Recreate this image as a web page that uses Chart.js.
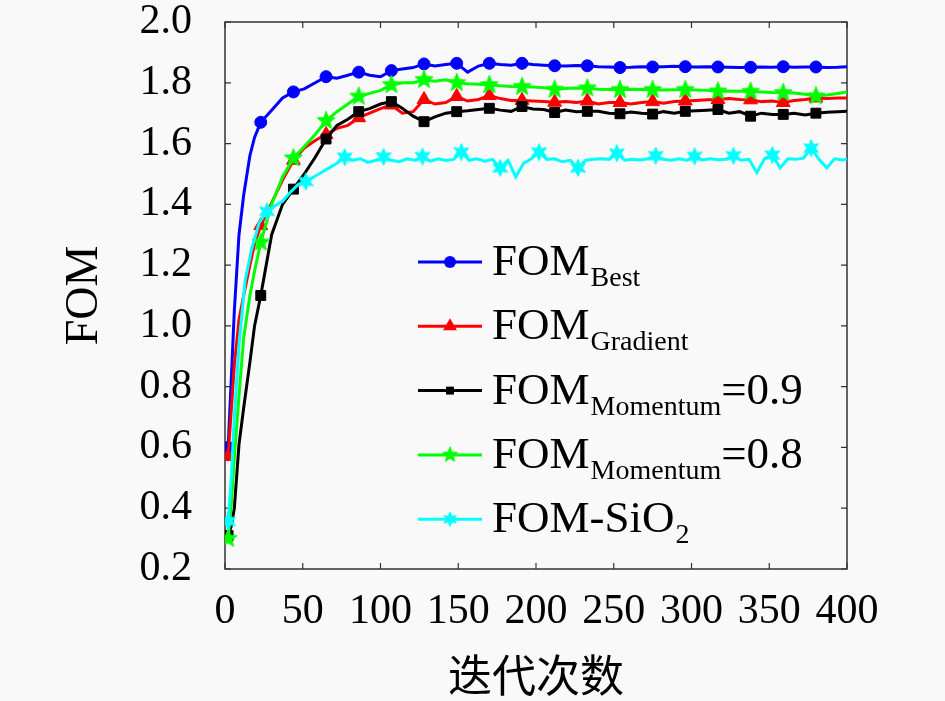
<!DOCTYPE html>
<html>
<head>
<meta charset="utf-8">
<script src="https://cdn.jsdelivr.net/npm/chart.js"></script>
<style>
html,body{margin:0;padding:0;background:#f9f9f9;}
#wrap{width:945px;height:701px;position:relative;}
</style>
</head>
<body>
<div id="wrap"><canvas id="c"></canvas></div>
<script>
// ---------- data ----------
const iterMain = [2,4,6,9,12,16,19,23,
  30,37,44,51,58,65,72,79,86,93,
  100,107,114,121,128,135,142,149,156,163,
  170,177,184,191,198,205,212,219,226,233,
  240,247,254,261,268,275,282,289,296,303,
  310,317,324,331,338,345,352,359,366,373,
  380,387,394,400];

const fomBest = [0.60,0.82,1.05,1.30,1.43,1.56,1.62,1.67,
  1.71,1.75,1.77,1.78,1.80,1.82,1.815,1.825,1.835,1.825,
  1.82,1.84,1.845,1.85,1.862,1.855,1.86,1.864,1.835,1.855,
  1.864,1.86,1.858,1.864,1.86,1.858,1.856,1.855,1.857,1.856,
  1.853,1.852,1.85,1.851,1.853,1.852,1.853,1.854,1.853,1.852,
  1.853,1.852,1.851,1.85,1.851,1.852,1.851,1.853,1.851,1.852,
  1.852,1.85,1.851,1.853];

const fomGradient = [0.57,0.72,0.87,1.02,1.10,1.20,1.27,1.33,
  1.405,1.48,1.545,1.585,1.61,1.63,1.65,1.66,1.685,1.70,
  1.715,1.727,1.70,1.705,1.745,1.73,1.735,1.755,1.74,1.745,
  1.758,1.748,1.742,1.742,1.74,1.738,1.736,1.738,1.735,1.74,
  1.73,1.735,1.735,1.73,1.735,1.738,1.733,1.738,1.74,1.742,
  1.744,1.745,1.748,1.745,1.744,1.738,1.74,1.735,1.742,1.745,
  1.75,1.748,1.75,1.75];

const fomMomentum09 = [0.31,0.34,0.40,0.61,0.73,0.88,1.00,1.10,
  1.30,1.40,1.45,1.50,1.555,1.615,1.66,1.68,1.705,1.715,
  1.73,1.738,1.716,1.69,1.672,1.688,1.70,1.705,1.708,1.712,
  1.716,1.71,1.706,1.722,1.714,1.712,1.702,1.71,1.705,1.706,
  1.706,1.70,1.698,1.704,1.70,1.697,1.705,1.70,1.706,1.708,
  1.71,1.712,1.70,1.705,1.69,1.70,1.696,1.696,1.70,1.694,
  1.70,1.703,1.705,1.706];

const fomMomentum08 = [0.30,0.41,0.57,0.77,0.96,1.10,1.18,1.275,
  1.40,1.49,1.552,1.59,1.63,1.675,1.705,1.73,1.755,1.765,
  1.775,1.793,1.80,1.80,1.81,1.805,1.81,1.80,1.797,1.795,
  1.793,1.79,1.788,1.787,1.786,1.784,1.778,1.781,1.783,1.782,
  1.779,1.778,1.777,1.779,1.778,1.777,1.776,1.777,1.777,1.776,
  1.775,1.772,1.773,1.772,1.771,1.77,1.768,1.767,1.766,1.762,
  1.756,1.76,1.765,1.77];

const iterSiO2 = [2,4,6,9,13,17,22,
  27,32,37,42,47,52,57,62,67,72,
  77,82,87,92,97,102,107,112,117,122,
  127,132,137,142,147,152,157,162,167,172,
  177,182,187,192,197,202,207,212,217,222,
  227,232,237,242,247,252,257,262,267,272,
  277,282,287,292,297,302,307,312,317,322,
  327,332,337,342,347,352,357,362,367,372,
  377,382,387,392,397,400];

const fomSiO2 = [0.357,0.495,0.70,0.94,1.15,1.25,1.34,
  1.377,1.395,1.41,1.44,1.465,1.475,1.49,1.505,1.52,1.535,
  1.555,1.545,1.55,1.538,1.545,1.556,1.545,1.54,1.55,1.545,
  1.557,1.542,1.55,1.544,1.548,1.572,1.545,1.55,1.542,1.548,
  1.52,1.545,1.49,1.535,1.55,1.572,1.548,1.55,1.54,1.545,
  1.52,1.545,1.548,1.55,1.548,1.568,1.545,1.548,1.546,1.55,
  1.56,1.548,1.545,1.55,1.545,1.558,1.546,1.55,1.547,1.548,
  1.56,1.545,1.548,1.505,1.55,1.562,1.52,1.55,1.548,1.552,
  1.585,1.548,1.52,1.55,1.546,1.548];

const seriesLabels = ['FOM_Best','FOM_Gradient','FOM_Momentum=0.9','FOM_Momentum=0.8','FOM-SiO2'];
const legendParts = [
  {main:'FOM', sub:'Best', tail:''},
  {main:'FOM', sub:'Gradient', tail:''},
  {main:'FOM', sub:'Momentum', tail:'=0.9'},
  {main:'FOM', sub:'Momentum', tail:'=0.8'},
  {main:'FOM-SiO', sub:'2', tail:''}
];
const xTitle = '迭代次数';
const yTitle = 'FOM';

// ---------- styling helpers ----------
const SERIF = '"Liberation Serif", "DejaVu Serif", serif';

function starCanvas(points, R, r, color) {
  const size = Math.ceil(2 * R + 3);
  const c = document.createElement('canvas');
  c.width = size; c.height = size;
  const g = c.getContext('2d');
  g.fillStyle = color; g.strokeStyle = color; g.lineWidth = 1; g.lineJoin = 'miter';
  g.beginPath();
  for (let k = 0; k < points * 2; k++) {
    const a = -Math.PI / 2 + k * Math.PI / points;
    const rr = (k % 2 === 0) ? R : r;
    const px = size / 2 + rr * Math.cos(a), py = size / 2 + rr * Math.sin(a);
    if (k === 0) g.moveTo(px, py); else g.lineTo(px, py);
  }
  g.closePath(); g.fill(); g.stroke();
  return c;
}
const pentagram = starCanvas(5, 9.5, 4, '#00ff00');
const hexagram = starCanvas(6, 8.5, 4.2, '#00ffff');

const pairs = (xs, ys) => xs.map((x, i) => ({x: x, y: ys[i]}));
const every = (step, r) => (ctx) => (ctx.raw && (ctx.raw.x - 2) % step === 0) ? r : 0;

const styles = [
  {color:'#0000ff', point:'circle', r:6},
  {color:'#ff0000', point:'triangle', r:8},
  {color:'#000000', point:'rect', r:7},
  {color:'#00ff00', point:pentagram, r:6},
  {color:'#00ffff', point:hexagram, r:6}
];

const seriesData = [
  pairs(iterMain, fomBest),
  pairs(iterMain, fomGradient),
  pairs(iterMain, fomMomentum09),
  pairs(iterMain, fomMomentum08),
  pairs(iterSiO2, fomSiO2)
];

const datasets = seriesData.map((d, i) => ({
  label: seriesLabels[i],
  data: d,
  borderColor: styles[i].color,
  backgroundColor: styles[i].color,
  pointBackgroundColor: styles[i].color,
  pointBorderColor: styles[i].color,
  borderWidth: 3,
  pointStyle: styles[i].point,
  pointRadius: every(i === 4 ? 25 : 21, styles[i].r),
  pointBorderWidth: 1,
  tension: 0,
  order: 5 - i
}));

function drawMarker(ctx, st, x, y) {
  ctx.save();
  ctx.fillStyle = st.color; ctx.strokeStyle = st.color; ctx.lineWidth = 1;
  if (st.point === 'circle') {
    ctx.beginPath(); ctx.arc(x, y, st.r, 0, Math.PI * 2); ctx.fill();
  } else if (st.point === 'triangle') {
    const r = st.r;
    ctx.beginPath();
    ctx.moveTo(x, y - r);
    ctx.lineTo(x + r * Math.cos(Math.PI / 6), y + r * 0.5);
    ctx.lineTo(x - r * Math.cos(Math.PI / 6), y + r * 0.5);
    ctx.closePath(); ctx.fill();
  } else if (st.point === 'rect') {
    const s = st.r * Math.SQRT1_2 * 0.8;
    ctx.fillRect(x - s, y - s, 2 * s, 2 * s);
  } else {
    const w = st.point.width * 0.85, h = st.point.height * 0.85;
    ctx.drawImage(st.point, x - w / 2, y - h / 2, w, h);
  }
  ctx.restore();
}

const framePlugin = {
  id: 'frame',
  beforeDatasetsDraw(chart) {
    const {ctx, chartArea: a, scales} = chart;
    ctx.save();
    ctx.strokeStyle = '#333333';
    ctx.lineWidth = 1.5;
    ctx.strokeRect(a.left, a.top, a.right - a.left, a.bottom - a.top);
    ctx.lineWidth = 1.2;
    const tl = 6;
    ctx.beginPath();
    scales.x.ticks.forEach(t => {
      const px = scales.x.getPixelForValue(t.value);
      ctx.moveTo(px, a.bottom); ctx.lineTo(px, a.bottom - tl);
      ctx.moveTo(px, a.top); ctx.lineTo(px, a.top + tl);
    });
    scales.y.ticks.forEach(t => {
      const py = scales.y.getPixelForValue(t.value);
      ctx.moveTo(a.left, py); ctx.lineTo(a.left + tl, py);
      ctx.moveTo(a.right, py); ctx.lineTo(a.right - tl, py);
    });
    ctx.stroke();
    ctx.restore();
  }
};

const legendPlugin = {
  id: 'texLegend',
  afterDatasetsDraw(chart) {
    const {ctx, chartArea: a} = chart;
    const lx = a.left + 193;
    const y0 = a.top + 240;
    const dy = 64.3;
    ctx.save();
    legendParts.forEach((p, i) => {
      const y = y0 + i * dy;
      const st = styles[i];
      ctx.strokeStyle = st.color; ctx.lineWidth = 3;
      ctx.beginPath(); ctx.moveTo(lx, y); ctx.lineTo(lx + 64, y); ctx.stroke();
      drawMarker(ctx, st, lx + 32, y);
      let tx = lx + 74;
      ctx.fillStyle = '#000';
      ctx.textAlign = 'left'; ctx.textBaseline = 'alphabetic';
      ctx.font = '45px ' + SERIF;
      ctx.fillText(p.main, tx, y + 13);
      tx += ctx.measureText(p.main).width + 1;
      ctx.font = '28px ' + SERIF;
      ctx.fillText(p.sub, tx, y + 24);
      tx += ctx.measureText(p.sub).width;
      if (p.tail) {
        ctx.font = '45px ' + SERIF;
        ctx.fillText(p.tail, tx, y + 13);
      }
    });
    ctx.restore();
  }
};

new Chart(document.getElementById('c'), {
  type: 'line',
  data: { datasets: datasets },
  options: {
    responsive: true,
    maintainAspectRatio: false,
    animation: false,
    events: [],
    layout: { padding: { left: 0, right: 98, top: 22, bottom: 0 } },
    plugins: { legend: { display: false }, tooltip: { enabled: false } },
    scales: {
      x: {
        type: 'linear',
        min: 0, max: 400,
        grid: { display: false, drawTicks: false },
        border: { display: false },
        ticks: { stepSize: 50, color: '#000', padding: 22,
                 font: { family: SERIF, size: 42, lineHeight: 1 } },
        title: { display: true, text: xTitle, color: '#000',
                 font: { family: '"Noto Sans CJK SC", sans-serif', size: 44, lineHeight: 1 },
                 padding: { top: 0, bottom: 4 } },
        afterFit(scale) {
          scale.height = 132;
          scale.paddingLeft = 0; scale.paddingRight = 0;
          scale.paddingTop = 0; scale.paddingBottom = 0;
        }
      },
      y: {
        type: 'linear',
        min: 0.2, max: 2.0,
        grid: { display: false, drawTicks: false },
        border: { display: false },
        ticks: { stepSize: 0.2, color: '#000', padding: 33,
                 font: { family: SERIF, size: 42, lineHeight: 1 },
                 callback: v => Number(v).toFixed(1) },
        title: { display: true, text: yTitle, color: '#000',
                 font: { family: SERIF, size: 46, lineHeight: 1 },
                 padding: { top: 62, bottom: 0 } },
        afterFit(scale) {
          scale.width = 225;
          scale.paddingLeft = 0; scale.paddingRight = 0;
          scale.paddingTop = 0; scale.paddingBottom = 0;
        }
      }
    }
  },
  plugins: [framePlugin, legendPlugin]
});
</script>
</body>
</html>
